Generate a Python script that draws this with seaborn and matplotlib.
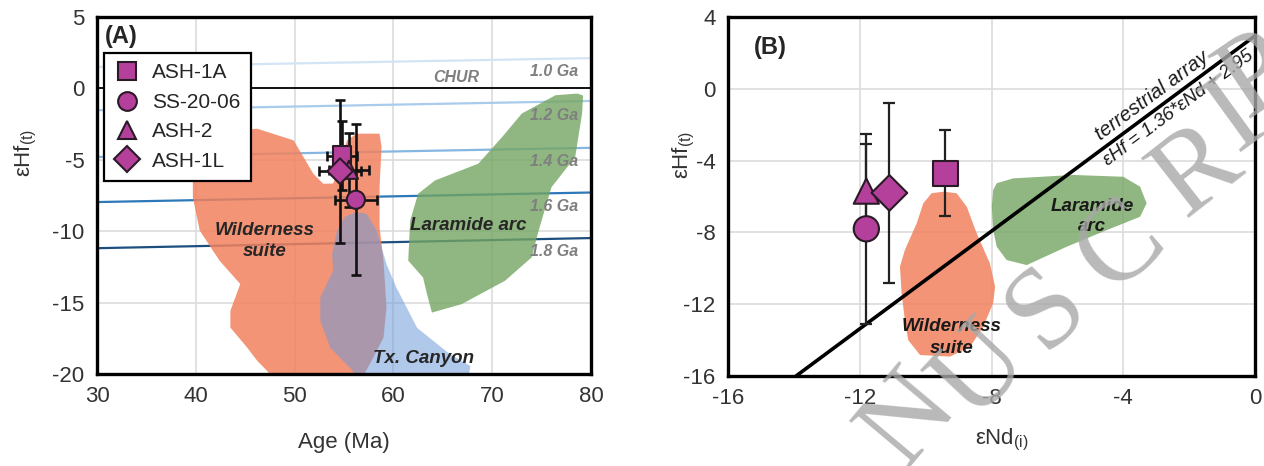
import numpy as np
import pandas as pd
import matplotlib
matplotlib.use("Agg")
import matplotlib.pyplot as plt
import seaborn as sns
from matplotlib.lines import Line2D

# ---------------- data ----------------
samples = ["ASH-1A", "SS-20-06", "ASH-2", "ASH-1L"]
sample_markers = ["s", "o", "^", "D"]
age = [54.8, 56.2, 55.5, 54.6]
age_err = [1.5, 2.1, 2.0, 2.1]
ehf = [-4.7, -7.8, -5.7, -5.8]
ehf_err = [2.4, 5.3, 2.6, 5.0]
end = [-9.4, -11.8, -11.8, -11.1]

# depleted-mantle model-age reference lines (eHf at 30 Ma and 80 Ma)
ref_labels = ["1.0 Ga", "1.2 Ga", "1.4 Ga", "1.6 Ga", "1.8 Ga"]
ref_age = [30, 80]
ref_left = [1.50, -1.53, -4.80, -7.96, -11.19]
ref_right = [2.12, -0.88, -4.16, -7.29, -10.48]
ref_label_y = [1.15, -1.9, -5.1, -8.25, -11.4]

# field outlines, panel A (age, eHf)
wild_a_age = [40.0, 46.2, 49.9, 50.9, 51.9, 52.9, 53.9, 54.6, 55.3, 56.3, 58.6, 58.8, 58.6,
              58.6, 59.0, 59.3, 59.0, 57.8, 56.9, 47.8, 46.2, 45.2, 43.5, 43.5, 44.5, 42.4,
              40.4, 39.7, 39.7]
wild_a_ehf = [-3.29, -2.82, -3.64, -4.81, -5.98, -6.68, -6.66, -5.39, -3.64, -3.17, -3.17,
              -4.11, -6.92, -9.73, -12.06, -15.34, -17.45, -19.06, -20.2, -20.2, -19.06,
              -18.15, -16.75, -15.58, -13.70, -12.06, -9.96, -7.62, -5.04]
txc_a_age = [56.3, 57.3, 58.3, 59.3, 60.3, 62.4, 65.7, 67.8, 67.6, 56.2, 55.9, 53.6, 52.6,
             52.6, 53.9, 53.8, 54.3, 55.1]
txc_a_ehf = [-8.67, -8.79, -9.96, -12.30, -13.94, -16.77, -18.60, -19.44, -20.2, -20.2,
             -19.79, -18.15, -16.28, -14.64, -12.77, -11.59, -9.96, -8.97]
lar_a_age = [78.6, 79.2, 79.1, 78.4, 76.0, 74.7, 74.0, 71.3, 66.9, 63.9, 63.4, 63.0, 61.5,
             61.7, 62.5, 64.2, 68.6, 71.0, 73.0, 76.4]
lar_a_ehf = [-0.36, -0.5, -1.74, -4.81, -6.92, -9.96, -11.83, -13.47, -15.11, -15.70,
             -14.40, -13.24, -12.06, -9.26, -7.38, -6.45, -5.27, -3.41, -1.76, -0.48]

# field outlines, panel B (eNd, eHf)
wild_b_end = [-9.46, -9.06, -8.75, -8.45, -8.05, -7.89, -7.95, -8.25, -8.65, -9.26, -10.17,
              -10.53, -10.63, -10.73, -10.78, -10.63, -10.27, -10.07, -9.82]
wild_b_ehf = [-5.73, -5.82, -6.57, -8.05, -9.72, -11.03, -11.95, -13.25, -14.37, -14.92,
              -14.83, -14.0, -12.88, -11.39, -9.91, -8.98, -7.49, -6.38, -5.82]
lar_b_end = [-7.84, -7.34, -5.52, -4.0, -3.49, -3.29, -3.49, -4.50, -5.72, -6.93, -7.54,
             -7.84, -7.95, -7.99, -7.95]
lar_b_ehf = [-5.26, -4.99, -4.80, -4.90, -5.45, -6.38, -7.13, -7.87, -8.80, -9.82, -9.54,
             -8.80, -7.87, -6.57, -5.64]

# terrestrial array
ta_slope = 1.36
ta_intercept = 2.95

# ---------------- style ----------------
sns.set_theme(style="white")
plt.rcParams["font.family"] = ["Liberation Sans", "DejaVu Sans"]
plt.rcParams["mathtext.default"] = "regular"
plt.rcParams["axes.unicode_minus"] = False

MAG = "#B4409B"
EDGE = "#2a1a26"
ORANGE = "#F1825E"
BLUE = "#6F9BD8"
GREEN = "#74A562"
GRIDC = "#dcdcdc"
TICKC = "#333333"
GA_GRAY = "#7f7f7f"

df = pd.DataFrame({"sample": samples, "age": age, "age_err": age_err,
                   "ehf": ehf, "ehf_err": ehf_err, "end": end})
marker_map = dict(zip(samples, sample_markers))

fig = plt.figure(figsize=(12.64, 4.66), dpi=100)
W, H = 1264, 466
axA = fig.add_axes([97 / W, (H - 374) / H, 494 / W, 357 / H])
axB = fig.add_axes([728 / W, (H - 376) / H, 527 / W, 359 / H])


def style_axes(ax):
    ax.grid(True, color=GRIDC, lw=1.2)
    ax.set_axisbelow(True)
    for sp in ax.spines.values():
        sp.set_linewidth(2.4)
        sp.set_color("black")
        sp.set_zorder(5)
    ax.tick_params(length=0, pad=9, labelsize=16, labelcolor=TICKC)


# ---------------- panel A ----------------
style_axes(axA)
axA.set_xlim(30, 80)
axA.set_ylim(-20, 5)
axA.set_xticks(range(30, 81, 10))
axA.set_yticks(range(-20, 6, 5))

ref_colors = ["#d3e5f5", "#a9cbec", "#86b6e2", "#2c78b8", "#1c4f80"]
for yl, yr, c in zip(ref_left, ref_right, ref_colors):
    axA.plot(ref_age, [yl, yr], color=c, lw=1.6, zorder=1)
axA.axhline(0, color="black", lw=1.3, zorder=1.2)

axA.fill(wild_a_age, wild_a_ehf, color=ORANGE, alpha=0.85, lw=0, zorder=2)
axA.fill(txc_a_age, txc_a_ehf, color=BLUE, alpha=0.55, lw=0, zorder=2.1)
axA.fill(lar_a_age, lar_a_ehf, color=GREEN, alpha=0.8, lw=0, zorder=2)

for lab, ly in zip(ref_labels, ref_label_y):
    axA.text(78.7, ly, lab, ha="right", va="center", fontsize=11.5, style="italic",
             weight="bold", color=GA_GRAY, zorder=3)
axA.text(66.4, 0.75, "CHUR", ha="center", va="center", fontsize=11.5, style="italic",
         weight="bold", color=GA_GRAY, zorder=3)

axA.text(47.0, -10.7, "Wilderness\nsuite", ha="center", va="center", fontsize=13.5,
         style="italic", weight="bold", color="#262626", linespacing=1.35, zorder=3)
axA.text(63.1, -18.9, "Tx. Canyon", ha="center", va="center", fontsize=13.5,
         style="italic", weight="bold", color="#262626", zorder=3)
axA.text(67.6, -9.6, "Laramide arc", ha="center", va="center", fontsize=13.5,
         style="italic", weight="bold", color="#262626", zorder=3)

axA.errorbar(df["age"], df["ehf"], xerr=df["age_err"], yerr=df["ehf_err"], fmt="none",
             ecolor="#111111", elinewidth=1.9, capsize=3.5, capthick=1.9, zorder=4)
sns.scatterplot(data=df, x="age", y="ehf", style="sample", markers=marker_map,
                color=MAG, edgecolor=EDGE, linewidth=1.5, s=170, legend=False,
                ax=axA, zorder=6)

handles = [Line2D([], [], ls="none", marker=m, markersize=13.5, markerfacecolor=MAG,
                  markeredgecolor=EDGE, markeredgewidth=1.5)
           for m in sample_markers]
leg = axA.legend(handles, samples, loc="upper left", bbox_to_anchor=(0.014, 0.899),
                 borderaxespad=0, frameon=True, fancybox=False, framealpha=1,
                 edgecolor="black", fontsize=15, handlelength=1.2, handletextpad=0.6,
                 labelspacing=0.5, borderpad=0.5)
leg.get_frame().set_linewidth(1.6)
for t in leg.get_texts():
    t.set_color("#262626")
leg.set_zorder(10)

axA.text(0.016, 0.978, "(A)", transform=axA.transAxes, ha="left", va="top",
         fontsize=17, weight="bold", color="#262626", zorder=8)
axA.set_xlabel("Age (Ma)", fontsize=16, color=TICKC)
axA.xaxis.set_label_coords(0.5, -0.162)
axA.set_ylabel("εHf$_{(t)}$", fontsize=16, color=TICKC)
axA.yaxis.set_label_coords(-0.118, 0.62)

# ---------------- panel B ----------------
style_axes(axB)
axB.set_xlim(-16, 0)
axB.set_ylim(-16, 4)
axB.set_xticks(range(-16, 1, 4))
axB.set_yticks(range(-16, 5, 4))

axB.fill(wild_b_end, wild_b_ehf, color=ORANGE, alpha=0.85, lw=0, zorder=2)
axB.fill(lar_b_end, lar_b_ehf, color=GREEN, alpha=0.8, lw=0, zorder=2)
axB.axline((0, ta_intercept), slope=ta_slope, color="black", lw=2.6, zorder=3)

# on-screen angle of the terrestrial array
p1 = axB.transData.transform((-12, ta_slope * -12 + ta_intercept))
p2 = axB.transData.transform((-2, ta_slope * -2 + ta_intercept))
ang = np.degrees(np.arctan2(p2[1] - p1[1], p2[0] - p1[0]))
th = np.radians(ang)
d = 2.5
x1 = -2.9
axB.annotate("terrestrial array", xy=(x1, ta_slope * x1 + ta_intercept),
             xytext=(-d * np.sin(th), d * np.cos(th)),
             textcoords="offset points", rotation=ang, rotation_mode="anchor",
             ha="center", va="bottom", fontsize=14.5,
             style="italic", color="#1a1a1a", zorder=4)
x2 = -2.55
axB.annotate("εHf = 1.36*εNd + 2.95", xy=(x2, ta_slope * x2 + ta_intercept),
             xytext=(d * np.sin(th), -d * np.cos(th)),
             textcoords="offset points", rotation=ang, rotation_mode="anchor",
             ha="center", va="top", fontsize=13.5,
             style="italic", color="#1a1a1a", zorder=4)

axB.text(-9.22, -13.85, "Wilderness\nsuite", ha="center", va="center", fontsize=13.5,
         style="italic", weight="bold", color="#1a1a1a", linespacing=1.35, zorder=4)
axB.text(-4.95, -7.1, "Laramide\narc", ha="center", va="center", fontsize=13.5,
         style="italic", weight="bold", color="#1a1a1a", linespacing=1.2, zorder=4)

axB.errorbar(df["end"], df["ehf"], yerr=df["ehf_err"], fmt="none", ecolor="#222222",
             elinewidth=1.6, capsize=4, capthick=1.6, zorder=4)
sns.scatterplot(data=df, x="end", y="ehf", style="sample", markers=marker_map,
                color=MAG, edgecolor=EDGE, linewidth=1.5, s=330, legend=False,
                ax=axB, zorder=6)

axB.text(0.05, 0.916, "(B)", transform=axB.transAxes, ha="left", va="center",
         fontsize=17, weight="bold", color="#262626", zorder=8)
axB.set_xlabel("εNd$_{(i)}$", fontsize=16, color=TICKC)
axB.xaxis.set_label_coords(0.52, -0.143)
axB.set_ylabel("εHf$_{(t)}$", fontsize=16, color=TICKC)
axB.yaxis.set_label_coords(-0.058, 0.615)

# ---------------- watermark ----------------
wm_letters = ["N", "U", "S", "C", "R", "I", "P"]
wm_x = [910, 982, 1047, 1122, 1198, 1236, 1258]
wm_y = [420, 372, 310, 248, 172, 118, 78]
wm_rot = [50, 47, 44, 41, 38, 36, 34]
for ch, px, py, r in zip(wm_letters, wm_x, wm_y, wm_rot):
    fig.text(px / W, 1 - py / H, ch, ha="center", va="center", rotation=r,
             fontsize=84, family="Liberation Serif", color="#a8a8a8", alpha=0.8,
             zorder=20)

fig.savefig("out.png", dpi=100)
